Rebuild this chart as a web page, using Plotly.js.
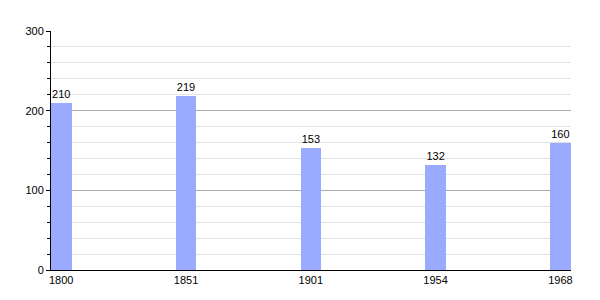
<!DOCTYPE html>
<html><head><meta charset="utf-8">
<script src="https://cdn.plot.ly/plotly-3.0.1.min.js"></script>
<style>html,body{margin:0;padding:0;background:#fff}#chart{width:600px;height:300px}</style>
</head><body><div id="chart"></div>
<script>
const years = ["1800", "1851", "1901", "1954", "1968"];
const population = [210, 219, 153, 132, 160];
const yTicks = [0, 100, 200, 300];

Plotly.newPlot('chart', [{
  type: 'bar',
  x: years,
  y: population,
  width: 0.165,
  marker: {color: '#99aaff'},
  text: population.map(String),
  textposition: 'outside',
  cliponaxis: false,
  textfont: {family: 'Liberation Sans, Arial, sans-serif', size: 11, color: '#000'},
  hoverinfo: 'none'
}], {
  width: 600, height: 300,
  margin: {l: 51, r: 29, t: 31, b: 30, pad: 0},
  paper_bgcolor: '#fff', plot_bgcolor: '#fff',
  showlegend: false,
  font: {family: 'Liberation Sans, Arial, sans-serif', size: 11, color: '#000'},
  xaxis: {
    type: 'category',
    range: [-0.082, 4.085],
    showline: true, linecolor: '#000', linewidth: 1,
    ticks: '', showgrid: false, zeroline: false,
    tickfont: {size: 11, color: '#000'}
  },
  yaxis: {
    range: [0, 300],
    tickvals: yTicks,
    ticks: 'outside', ticklen: 4, tickcolor: '#000',
    showline: true, linecolor: '#000', linewidth: 1,
    showgrid: true, gridcolor: '#aaa', gridwidth: 1,
    zeroline: false,
    tickfont: {size: 11, color: '#000'},
    minor: {dtick: 20, showgrid: true, gridcolor: '#e2e2e2', ticks: 'outside', ticklen: 3, tickcolor: '#000'}
  },
  bargap: 0
}, {staticPlot: true, displayModeBar: false});
</script></body></html>
